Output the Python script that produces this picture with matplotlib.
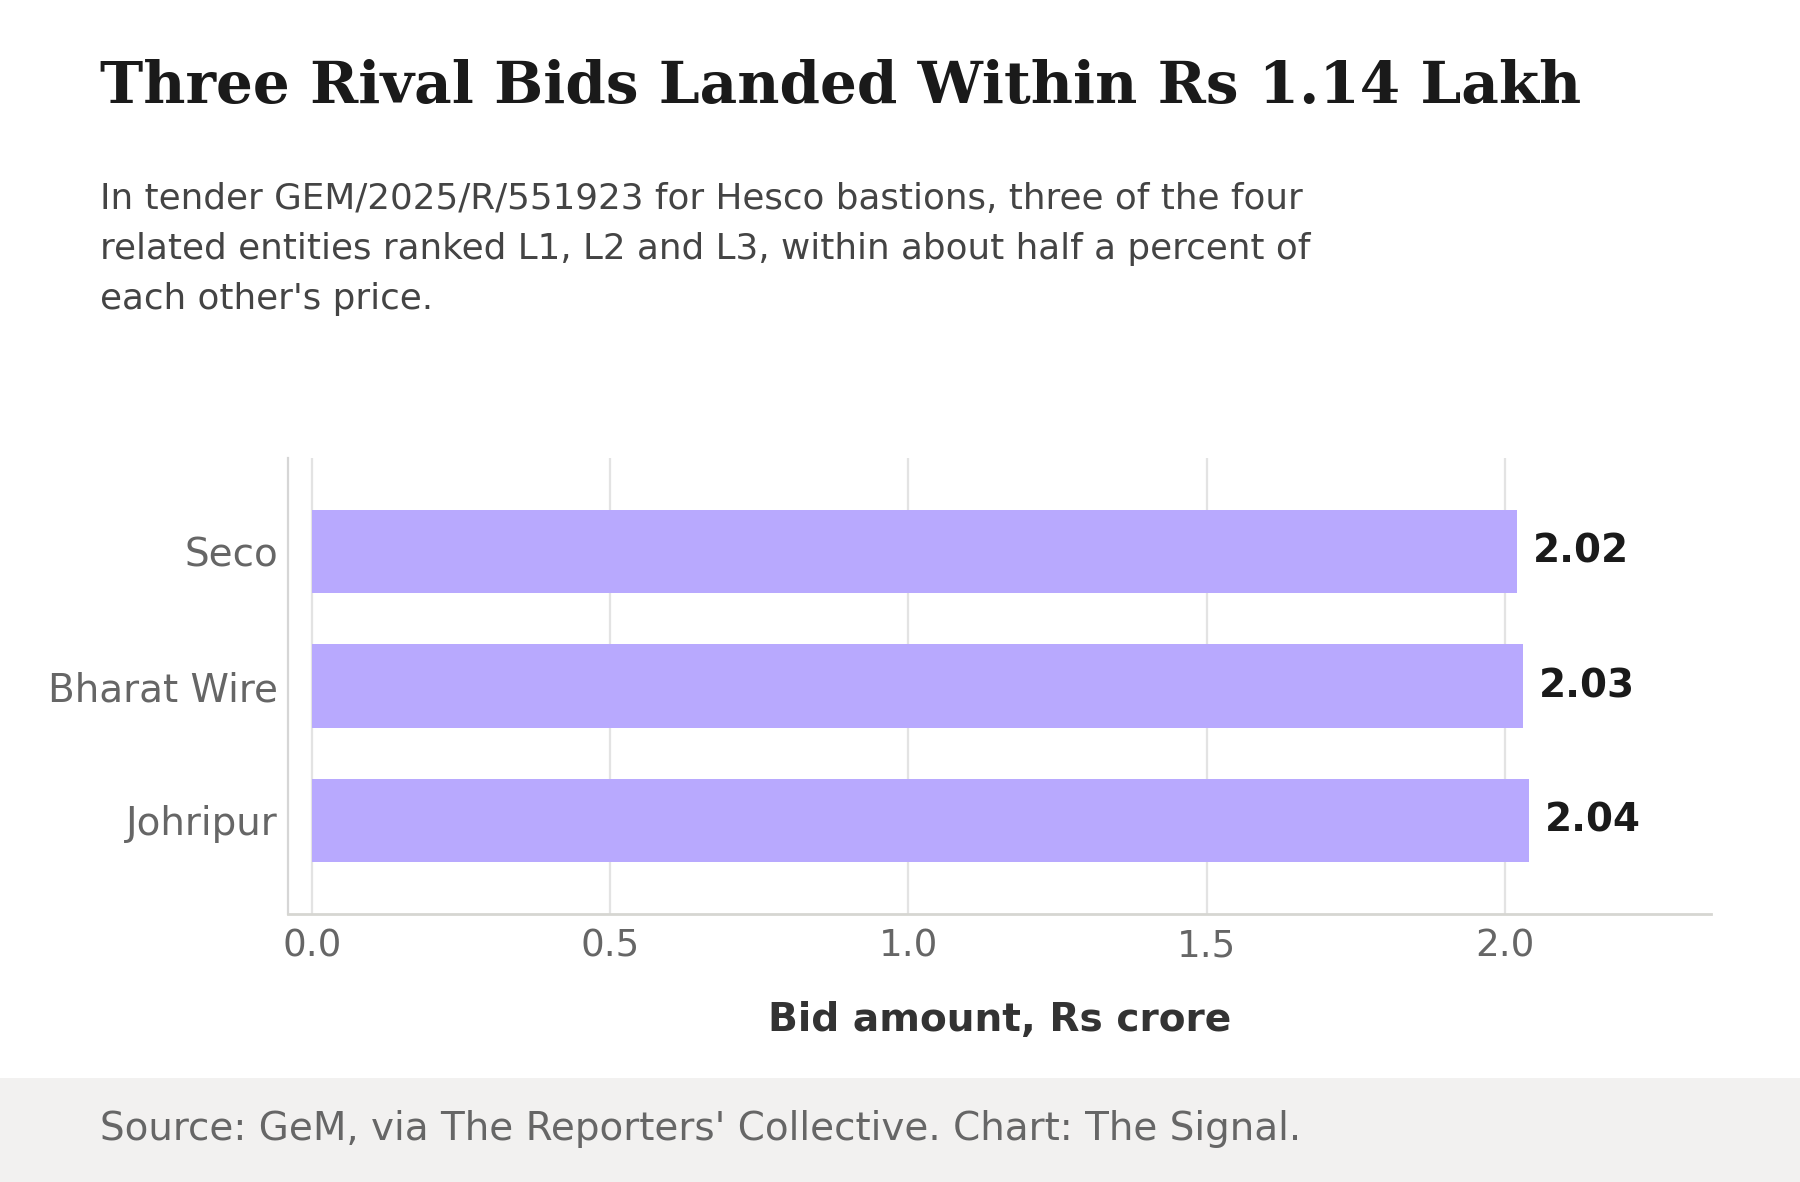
import matplotlib
matplotlib.use("Agg")
import matplotlib.pyplot as plt
from matplotlib.patches import Rectangle

# data
bidders = ["Seco", "Bharat Wire", "Johripur"]
bids_crore = [2.02, 2.03, 2.04]
value_labels = ["2.02", "2.03", "2.04"]
x_ticks = [0.0, 0.5, 1.0, 1.5, 2.0]

title = "Three Rival Bids Landed Within Rs 1.14 Lakh"
subtitle = ("In tender GEM/2025/R/551923 for Hesco bastions, three of the four\n"
            "related entities ranked L1, L2 and L3, within about half a percent of\n"
            "each other's price.")
source = "Source: GeM, via The Reporters' Collective. Chart: The Signal."

bar_color = "#b8a9fe"

fig = plt.figure(figsize=(9, 5.91), dpi=200)
fig.patch.set_facecolor("white")

# footer band
fig.patches.append(Rectangle((0, 0), 1, 0.088, transform=fig.transFigure,
                             facecolor="#f2f1f0", edgecolor="none", zorder=0))
fig.text(0.0556, 0.0448, source, fontsize=14, color="#666666",
         va="center", ha="left")

fig.text(0.0556, 0.9125, title, fontsize=20.9, fontweight="bold",
         family="DejaVu Serif", color="#1a1a1a", va="baseline", ha="left")
fig.text(0.0556, 0.846, subtitle, fontsize=12.9, color="#444444",
         va="top", ha="left", linespacing=1.59)

ax = fig.add_axes([0.16, 0.2267, 0.7906, 0.3858])
ypos = list(range(len(bidders)))
ax.barh(ypos, bids_crore, height=0.62, color=bar_color, zorder=2)
for y, v, lab in zip(ypos, bids_crore, value_labels):
    ax.text(v + 0.027, y, lab, va="center", ha="left", fontsize=14,
            fontweight="bold", color="#1a1a1a")

ax.set_yticks(ypos)
ax.set_yticklabels(bidders)
ax.set_ylim(2.7, -0.7)
ax.set_xlim(-0.04, max(bids_crore) * 1.15)
ax.set_xticks(x_ticks)
ax.set_xticklabels([f"{t:.1f}" for t in x_ticks])

ax.grid(axis="x", color="#e3e3e3", linewidth=0.8, zorder=0)
ax.set_axisbelow(True)
for s in ["top", "right"]:
    ax.spines[s].set_visible(False)
ax.spines["left"].set_color("#d6d6d6")
ax.spines["left"].set_linewidth(0.8)
ax.spines["bottom"].set_color("#d6d6d2")
ax.spines["bottom"].set_linewidth(1.0)
ax.tick_params(axis="both", length=0)
ax.tick_params(axis="x", labelsize=13.4, labelcolor="#666666", pad=5)
ax.tick_params(axis="y", labelsize=14, labelcolor="#666666", pad=3.6)

ax.set_xlabel("Bid amount, Rs crore", fontsize=14.1, fontweight="bold",
              color="#333333", labelpad=13)

fig.savefig("out.png", dpi=200)
